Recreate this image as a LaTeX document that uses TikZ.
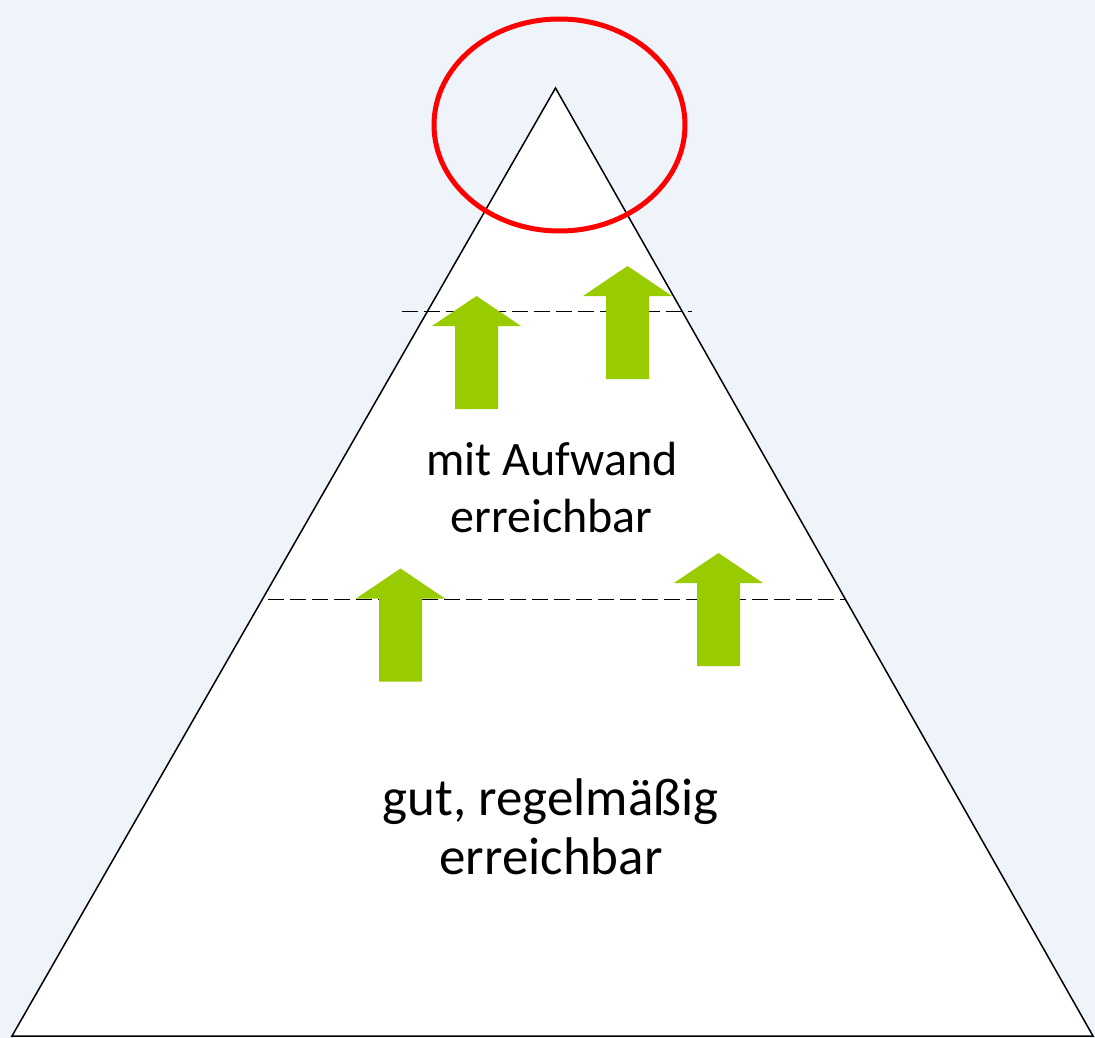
\documentclass[tikz,border=0pt]{standalone}
\usepackage{fontspec}
\setmainfont{Carlito}
\definecolor{bgblue}{RGB}{239,244,251}
\definecolor{arrowgreen}{RGB}{153,204,0}
\definecolor{ringred}{RGB}{255,0,0}
\tikzset{
  levelline/.style={black, line width=1.3pt, dash pattern=on 16pt off 6pt},
  upgreen/.pic={\fill[arrowgreen] (0,0) -- (44.5,30) -- (21.5,30) -- (21.5,113) -- (-21.5,113) -- (-21.5,30) -- (-44.5,30) -- cycle;},
  uppertext/.style={anchor=base, inner sep=0pt, font=\fontsize{48}{58}\selectfont},
  lowertext/.style={anchor=base, inner sep=0pt, font=\fontsize{53}{60}\selectfont}
}
\begin{document}
\begin{tikzpicture}[x=1pt,y=-1pt]
\fill[bgblue] (0,0) rectangle (1095,1038);
\useasboundingbox (0,0) rectangle (1095,1038);
\coordinate (apex) at (555.5,88);
\coordinate (bl) at (12,1036);
\coordinate (br) at (1093,1036);
\filldraw[fill=white, draw=black, line width=1.5pt, line join=miter] (apex) -- (br) -- (bl) -- cycle;
\coordinate (d1a) at (401.5,311.3);
\coordinate (d1b) at (692,311.3);
\coordinate (d2a) at (268,599.3);
\coordinate (d2b) at (845,599.3);
\draw[levelline] (d1a) -- (d1b);
\draw[levelline] (d2a) -- (d2b);
\pic at (476.5,296) {upgreen};
\pic at (627.5,266) {upgreen};
\pic at (400.5,568.5) {upgreen};
\pic at (718.5,553) {upgreen};
\draw[ringred, line width=5pt] (559.5,125) ellipse [x radius=125.5, y radius=106];
\node[uppertext] (t1) at (552,475) {mit Aufwand};
\node[uppertext] (t2) at (551.5,532) {erreichbar};
\node[lowertext] (t3) at (550.5,815) {gut, regelmäßig};
\node[lowertext] (t4) at (551,874) {erreichbar};
\end{tikzpicture}
\end{document}
